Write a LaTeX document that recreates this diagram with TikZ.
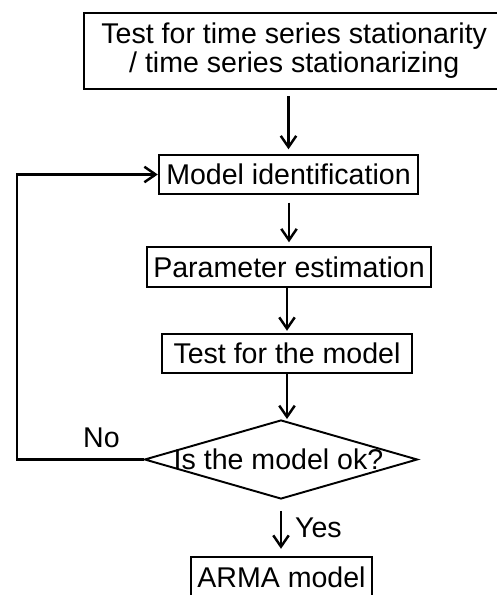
\documentclass[tikz,border=0pt]{standalone}
\usepackage{fontspec}
\setmainfont{Liberation Sans}
\usetikzlibrary{arrows.meta,shapes.geometric}

\begin{document}
\begin{tikzpicture}
\useasboundingbox (0,0) rectangle (19.88,23.8);
\begin{scope}[every node/.style={rectangle,draw,line width=2.8pt,inner sep=0pt,
                                 font=\fontsize{32.5}{33}\selectfont}]
    \node[anchor=west,minimum width=16.8cm,minimum height=3.04cm,align=center] (tst) at (3.32,21.76)
        {Test for time series stationarity\\ / time series stationarizing};
    \node[minimum width=10.36cm,minimum height=1.56cm] (ident) at (11.54,16.82) {Model identification};
    \node[minimum width=11.36cm,minimum height=1.6cm] (est) at (11.56,13.12) {Parameter estimation};
    \node[minimum width=10cm,minimum height=1.56cm] (chk) at (11.48,9.66) {Test for the model};
    \node[diamond,line width=2.2pt,minimum width=10.92cm,minimum height=3.16cm] (ok) at (11.24,5.42) {};
    \node[minimum width=7.24cm,minimum height=1.6cm] (arma) at (11.26,0.72) {ARMA model};
\end{scope}

\begin{scope}[every node/.style={font=\fontsize{32.5}{33}\selectfont}]
    \node (oktxt) at ([xshift=-0.1cm]ok.center) {Is the model ok?};
    \node (no) at (4.06,6.28) {No};
    \coordinate (ret) at (0.68,0);
\end{scope}

\begin{scope}[>={Straight Barb[length=0.45cm,width=0.62cm]},
              every node/.style={font=\fontsize{32.5}{33}\selectfont},
              every edge/.style={draw,line width=2.8pt}]
    \path [->] (ident.north |- tst.south) edge[shorten <=0.24cm,shorten >=0.18cm] (ident.north);
    \path [->] (est.north |- ident.south) edge[shorten <=0.3cm,shorten >=0.14cm] (est.north);
    \path [->] (chk.north |- est.south) edge[shorten >=0.08cm] (chk.north);
    \path [->] (chk.south) edge (chk.south |- ok.north);
    \path [->] (ok.south) edge[shorten <=0.44cm,shorten >=0.28cm] node[right=0.4cm] (yes) {Yes} (arma.north -| ok.south);
    \draw [->,line width=2.8pt] (ok.west) -- (ok.west -| ret) |- (ident.west);
\end{scope}
\end{tikzpicture}
\end{document}
